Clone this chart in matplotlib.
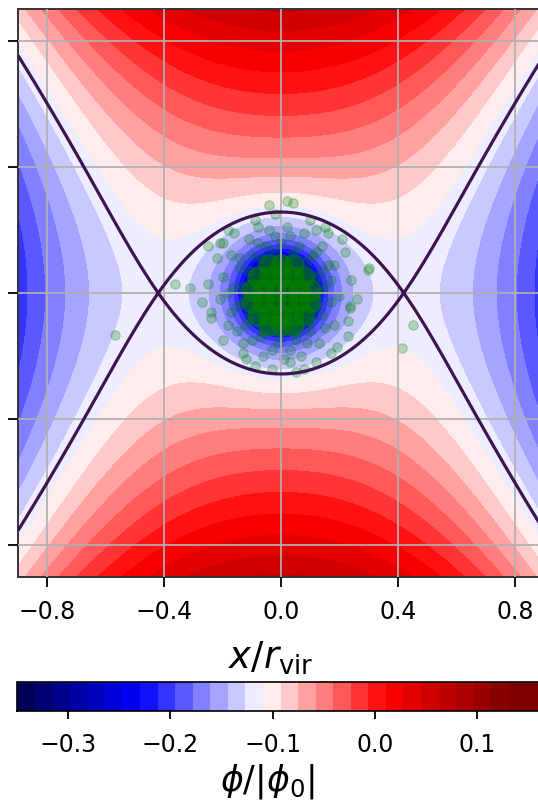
import numpy as np
import matplotlib
matplotlib.use("Agg")
import matplotlib.pyplot as plt
from matplotlib.colors import Normalize

# tidal potential model, lengths in r_vir, potential in |phi_0|
GM = 0.029          # cluster mass term
SOFT = 0.03         # softening length
X_LAGRANGE = 0.42   # position of the Lagrange points on the x axis
K_Y = 9.6 * GM      # compressive tidal term along y
PHI_OFFSET = -0.0164

# colour scale
PHI_MIN, PHI_MAX = -0.35, 0.165
N_LEVELS = 31
CBAR_TICKS = [-0.3, -0.2, -0.1, 0.0, 0.1]
X_TICKS = [-0.8, -0.4, 0.0, 0.4, 0.8]
Y_TICKS = [-0.8, -0.4, 0.0, 0.4, 0.8]

# stars: dense core
core_x = [-0.04, 0.00, 0.04,
          -0.08, -0.04, 0.00, 0.04, 0.08,
          -0.10, -0.06, -0.02, 0.02, 0.06, 0.10,
          -0.10, -0.06, -0.02, 0.02, 0.06, 0.10,
          -0.08, -0.04, 0.00, 0.04, 0.08,
          -0.04, 0.00, 0.04]
core_y = [0.09, 0.09, 0.09,
          0.05, 0.05, 0.05, 0.05, 0.05,
          0.01, 0.01, 0.01, 0.01, 0.01, 0.01,
          -0.03, -0.03, -0.03, -0.03, -0.03, -0.03,
          -0.07, -0.07, -0.07, -0.07, -0.07,
          -0.10, -0.10, -0.10]

# stars: halo and escapers
halo_x = [0.13, 0.12, 0.09, 0.04, -0.02, -0.07, -0.11, -0.13, -0.13, -0.11, -0.06, 0.00,
          0.05, 0.10, 0.12,
          0.15, 0.14, 0.11, 0.06, 0.00, -0.05, -0.10, -0.14, -0.16, -0.15, -0.12, -0.07,
          -0.01, 0.05, 0.10, 0.14,
          0.17, 0.16, 0.12, 0.03, -0.02, -0.08, -0.14, -0.18, -0.17, -0.15, -0.10, -0.03,
          0.03, 0.09, 0.15, 0.17,
          0.20, 0.18, 0.14, 0.08, 0.02, -0.04, -0.11, -0.17, -0.20, -0.21, -0.18, -0.13,
          -0.06, 0.01, 0.07, 0.13, 0.18,
          0.24, 0.22, 0.16, 0.10, -0.02, -0.09, -0.16, -0.22, -0.25, -0.24, -0.20, -0.12,
          -0.03, 0.05, 0.12, 0.19, 0.23,
          -0.18, -0.21, 0.26, -0.27, 0.08, -0.09, 0.15, 0.21,
          -0.567, 0.451, 0.414, 0.236, 0.229, 0.297, 0.02, -0.04, 0.04, -0.25, -0.362,
          -0.31, -0.24, 0.30, 0.236, -0.13, 0.12, -0.20, 0.17, 0.03, -0.08]
halo_y = [0.00, 0.05, 0.10, 0.13, 0.13, 0.11, 0.07, 0.02, -0.03, -0.08, -0.12, -0.13,
          -0.12, -0.09, -0.04,
          0.02, 0.07, 0.12, 0.15, 0.16, 0.15, 0.12, 0.08, 0.02, -0.04, -0.10, -0.14,
          -0.16, -0.15, -0.12, -0.07,
          0.04, 0.09, 0.13, 0.18, 0.18, 0.16, 0.11, 0.00, -0.06, -0.12, -0.15, -0.18,
          -0.18, -0.16, -0.11, -0.03,
          -0.01, 0.09, 0.15, 0.19, 0.21, 0.20, 0.17, 0.12, 0.05, -0.02, -0.10, -0.16,
          -0.20, -0.21, -0.20, -0.16, -0.10,
          0.04, 0.13, 0.19, 0.23, 0.25, 0.23, 0.19, 0.11, 0.03, -0.06, -0.15, -0.21,
          -0.24, -0.25, -0.22, -0.17, -0.09,
          0.20, 0.16, -0.02, -0.03, -0.24, -0.23, 0.21, 0.17,
          -0.132, -0.10, -0.173, -0.047, -0.135, 0.072, 0.29, 0.28, 0.285, 0.148, 0.03,
          0.016, -0.08, 0.08, -0.04, -0.19, 0.20, 0.16, -0.19, -0.22, 0.21]

# potential on a grid
k_x = GM / (X_LAGRANGE**2 + SOFT**2) ** 1.5
gx = np.linspace(-0.9, 0.9, 500)
gy = np.linspace(-0.9, 0.9, 500)
X, Y = np.meshgrid(gx, gy)


def potential(x, y):
    return (PHI_OFFSET - GM / np.sqrt(x**2 + y**2 + SOFT**2)
            - 0.5 * k_x * x**2 + 0.5 * K_Y * y**2)


phi = np.maximum(potential(X, Y), PHI_MIN)
phi_L = potential(X_LAGRANGE, 0.0)

W, H = 538, 803
fig = plt.figure(figsize=(W / 100, H / 100), dpi=100)
ax = fig.add_axes([18 / W, (H - 578) / H, 526 / W, 568 / H])
cax = fig.add_axes([17 / W, (H - 712) / H, 527 / W, 29 / H])

levels = np.linspace(PHI_MIN, PHI_MAX, N_LEVELS)
norm = Normalize(vmin=PHI_MIN, vmax=0.13)
cs = ax.contourf(X, Y, phi, levels=levels, cmap="seismic", norm=norm, zorder=0)
ax.contour(X, Y, phi, levels=[phi_L], colors="#3d1450", linewidths=2.3,
           linestyles="solid", zorder=4)

ax.scatter(core_x, core_y, s=260, color="g", alpha=0.65, linewidths=0, zorder=2)
ax.scatter(halo_x, halo_y, s=45, color="g", alpha=0.25, zorder=2)

ax.set_xlim(-0.9, 0.9)
ax.set_ylim(-0.9, 0.9)
ax.set_xticks(X_TICKS)
ax.set_yticks(Y_TICKS)
ax.grid(True, color="#b0b0b0", linewidth=1.4, alpha=0.9, zorder=3)
ax.set_axisbelow(False)
ax.tick_params(axis="x", labelsize=17, length=7, width=1.3, pad=9)
ax.tick_params(axis="y", labelleft=False, length=7, width=1.3)
for sp in ax.spines.values():
    sp.set_linewidth(1.4)
    sp.set_color("#333333")
ax.set_xlabel(r"$x/r_{\rm vir}$", fontsize=26.5)
ax.xaxis.set_label_coords(0.481, -0.109)
ax.xaxis.label.set_va("top")

cb = fig.colorbar(cs, cax=cax, orientation="horizontal", ticks=CBAR_TICKS)
cb.ax.tick_params(labelsize=17, length=6, width=1.3, pad=9)
cb.outline.set_linewidth(1.2)
cb.set_label(r"$\phi/|\phi_0|$", fontsize=25)
cb.ax.xaxis.set_label_coords(0.476, -1.72)
cb.ax.xaxis.label.set_va("top")

fig.savefig("out.png", dpi=100)
